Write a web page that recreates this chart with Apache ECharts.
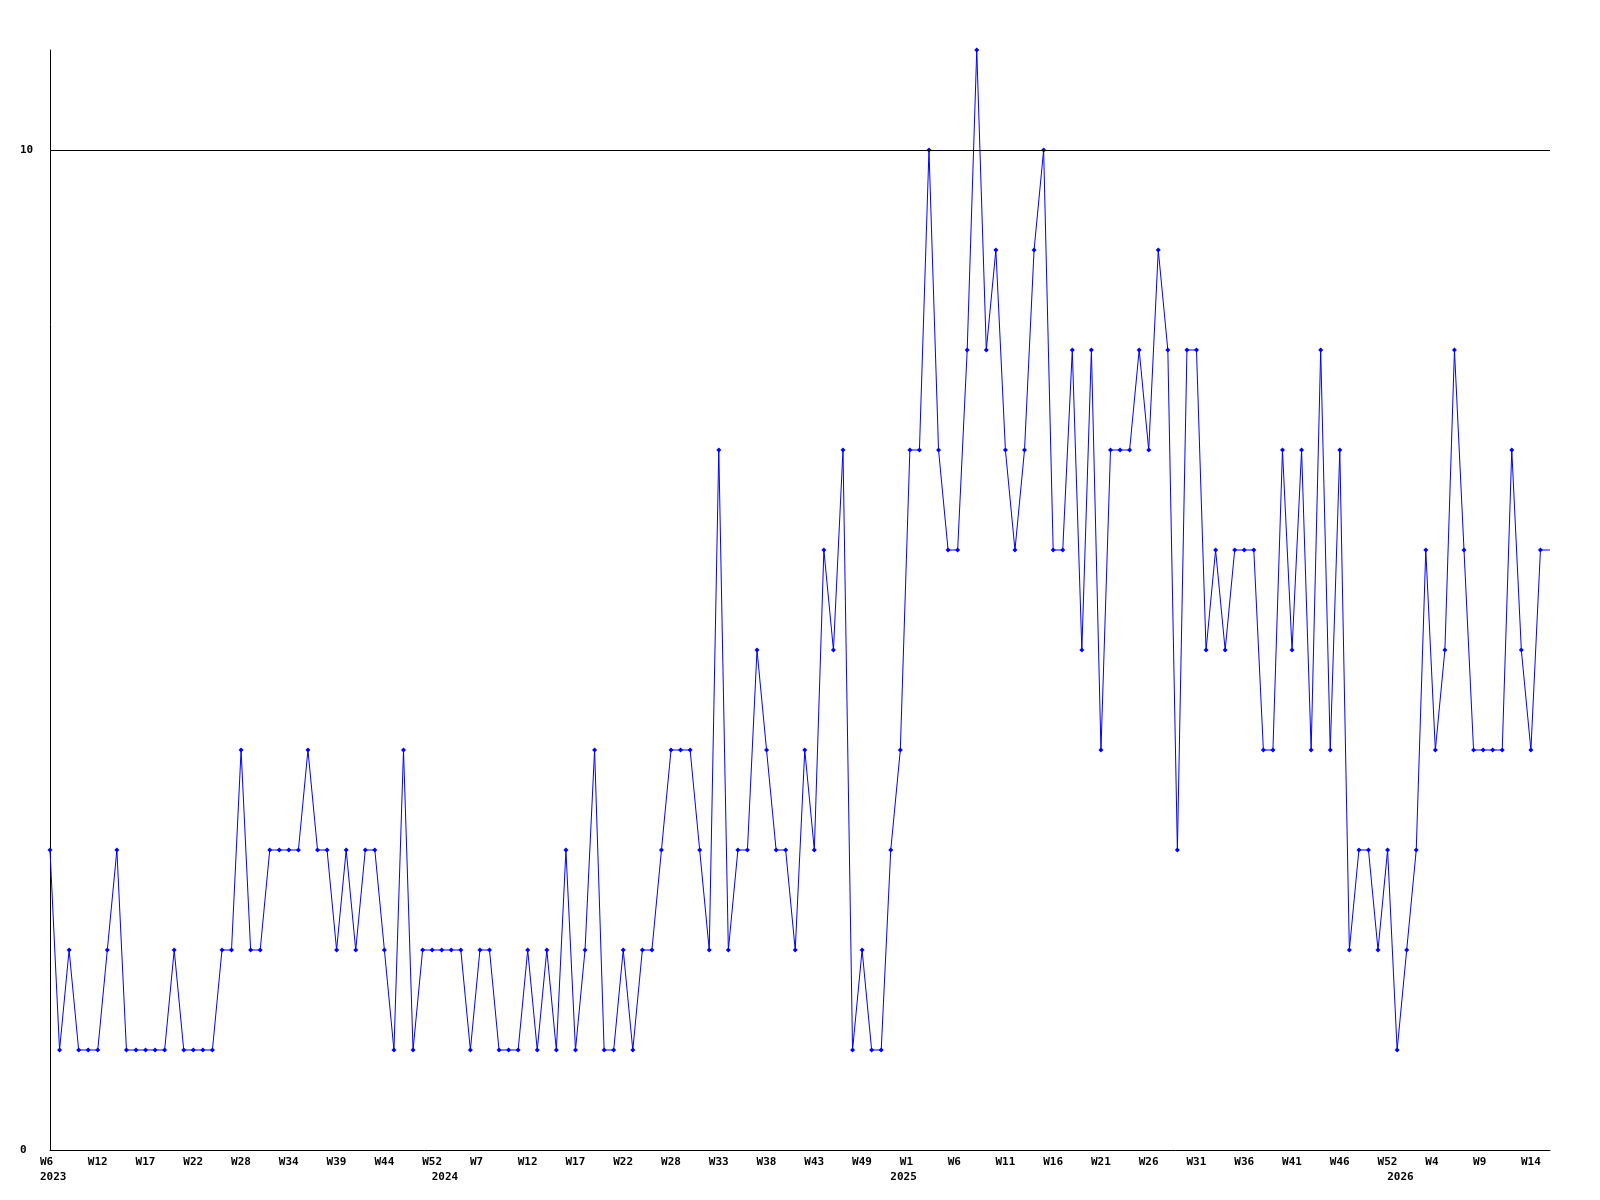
<!DOCTYPE html>
<html>
<head>
<meta charset="utf-8">
<title>weekly</title>
<script src="https://cdn.jsdelivr.net/npm/echarts/dist/echarts.min.js"></script>
<style>
  html, body { margin: 0; padding: 0; background: #fff; }
  #chart { width: 1600px; height: 1200px; }
</style>
</head>
<body>
<div id="chart"></div>
<script>
// weekly counts, one per point (2023 W6 .. 2026 W15)
const values = [
  3, 1, 2, 1, 1, 1, 2, 3, 1, 1, 1, 1, 1, 2, 1, 1, 1, 1, 2, 2,
  4, 2, 2, 3, 3, 3, 3, 4, 3, 3, 2, 3, 2, 3, 3, 2, 1, 4, 1, 2,
  2, 2, 2, 2, 1, 2, 2, 1, 1, 1, 2, 1, 2, 1, 3, 1, 2, 4, 1, 1,
  2, 1, 2, 2, 3, 4, 4, 4, 3, 2, 7, 2, 3, 3, 5, 4, 3, 3, 2, 4,
  3, 6, 5, 7, 1, 2, 1, 1, 3, 4, 7, 7, 10, 7, 6, 6, 8, 11, 8, 9,
  7, 6, 7, 9, 10, 6, 6, 8, 5, 8, 4, 7, 7, 7, 8, 7, 9, 8, 3, 8,
  8, 5, 6, 5, 6, 6, 6, 4, 4, 7, 5, 7, 4, 8, 4, 7, 2, 3, 3, 2,
  3, 1, 2, 3, 6, 4, 5, 8, 6, 4, 4, 4, 4, 7, 5, 4, 6, 6
];

// week label shown on every 5th point
const weekTicks = [
  'W6', 'W12', 'W17', 'W22', 'W28', 'W34', 'W39', 'W44', 'W52', 'W7',
  'W12', 'W17', 'W22', 'W28', 'W33', 'W38', 'W43', 'W49', 'W1', 'W6',
  'W11', 'W16', 'W21', 'W26', 'W31', 'W36', 'W41', 'W46', 'W52', 'W4',
  'W9', 'W14'
];
const tickStep = 5;

// year labels and the point they sit under
const years = ['2023', '2024', '2025', '2026'];
const yearPoints = [0, 41, 89, 141];

const categories = values.map((v, i) => 'p' + i);

const seriesData = values.map((v, i) =>
  i === values.length - 1 ? { value: v, symbol: 'none' } : v
);

const labelFont = {
  fontFamily: 'DejaVu Sans Mono',
  fontWeight: 'bold',
  fontSize: 11,
  color: '#000'
};

const chart = echarts.init(document.getElementById('chart'));
chart.setOption({
  animation: false,
  backgroundColor: '#fff',
  grid: { left: 50, right: 50, top: 50, bottom: 50, outerBoundsMode: 'none' },
  xAxis: [
    {
      type: 'category',
      data: categories,
      boundaryGap: false,
      axisLine: { lineStyle: { color: '#000', width: 1 } },
      axisTick: { show: false },
      splitLine: { show: false },
      axisLabel: Object.assign({
        interval: 0,
        align: 'left',
        margin: 7,
        padding: [0, 0, 0, -10],
        formatter: function (val, idx) {
          if (idx % tickStep !== 0) return '';
          return weekTicks[idx / tickStep] || '';
        }
      }, labelFont)
    },
    {
      type: 'category',
      data: categories,
      boundaryGap: false,
      position: 'bottom',
      offset: 15,
      axisLine: { show: false },
      axisTick: { show: false },
      splitLine: { show: false },
      axisLabel: Object.assign({
        interval: 0,
        align: 'left',
        margin: 7,
        padding: [0, 0, 0, -10],
        formatter: function (val, idx) {
          const k = yearPoints.indexOf(idx);
          return k >= 0 ? years[k] : '';
        }
      }, labelFont)
    }
  ],
  yAxis: {
    type: 'value',
    min: 0,
    max: 11,
    interval: 10,
    axisLine: { show: true, lineStyle: { color: '#000', width: 1 } },
    axisTick: { show: false },
    splitLine: { show: false },
    axisLabel: Object.assign({
      align: 'left',
      margin: 30,
      showMaxLabel: false
    }, labelFont)
  },
  series: [
    {
      type: 'line',
      data: seriesData,
      xAxisIndex: 0,
      symbol: 'diamond',
      symbolSize: 5,
      showAllSymbol: true,
      lineStyle: { color: '#0000ff', width: 1 },
      itemStyle: { color: '#0000ff' },
      markLine: {
        silent: true,
        symbol: ['none', 'none'],
        label: { show: false },
        lineStyle: { color: '#000', width: 1, type: 'solid' },
        data: [{ yAxis: 10 }]
      }
    }
  ]
});
</script>
</body>
</html>
